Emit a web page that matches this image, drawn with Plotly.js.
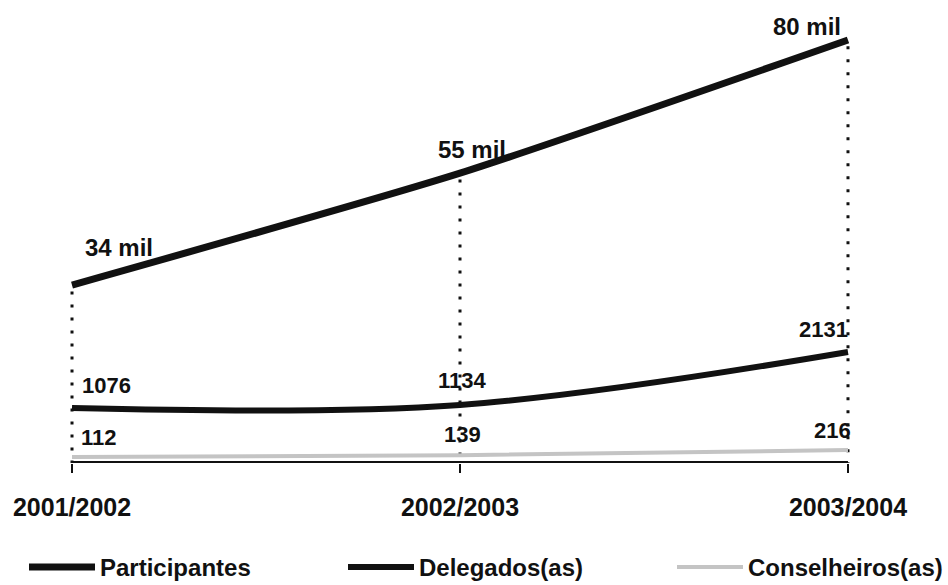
<!DOCTYPE html>
<html>
<head>
<meta charset="utf-8">
<script src="https://cdn.plot.ly/plotly-3.0.1.min.js"></script>
<style>html,body{margin:0;padding:0;background:#fff;}#chart{width:948px;height:585px;}</style>
</head>
<body>
<div id="chart"></div>
<script>
var categories = ["2001/2002", "2002/2003", "2003/2004"];
var participantes = [34, 55, 80];          // mil
var participantesLabels = ["34 mil", "55 mil", "80 mil"];
var delegados = [1076, 1134, 2131];
var conselheiros = [112, 139, 216];
var seriesNames = ["Participantes", "Delegados(as)", "Conselheiros(as)"];

var FONT = "Liberation Sans, Arial, sans-serif";
var yr1 = [0.6, 83.75], yr2 = [40, 8384], yr3 = [23, 6605];

var traces = [
  {x: categories, y: participantes, yaxis: "y", name: seriesNames[0], mode: "lines", legend: "legend",
   line: {color: "#111", width: 7, shape: "spline", smoothing: 0.6}},
  {x: categories, y: delegados, yaxis: "y2", name: seriesNames[1], mode: "lines", legend: "legend2",
   line: {color: "#111", width: 6, shape: "spline", smoothing: 1}},
  {x: categories, y: conselheiros, yaxis: "y3", name: seriesNames[2], mode: "lines", legend: "legend3",
   line: {color: "#c4c4c4", width: 4, shape: "spline", smoothing: 0.6}}
];
// dotted drop lines from the top series to the axis
for (var i = 0; i < categories.length; i++) {
  traces.push({x: [categories[i], categories[i]], y: [participantes[i] - 1.2, yr1[0]], yaxis: "y",
    mode: "lines", showlegend: false, hoverinfo: "skip",
    line: {color: "#111", width: 3, dash: "3px,10px"}});
}
// baseline spanning the categories
traces.push({x: categories, y: categories.map(function () { return yr1[0]; }), yaxis: "y",
  mode: "lines", showlegend: false, hoverinfo: "skip", line: {color: "#111", width: 4}});

var anns = [];
var anchors = ["left", "center", "right"];
for (var j = 0; j < categories.length; j++) {
  anns.push({x: categories[j], y: participantes[j], yref: "y", text: participantesLabels[j],
    showarrow: false, xanchor: anchors[j], yanchor: "bottom", xshift: [11, 12, -5][j], yshift: [22, 8, -2][j],
    font: {family: FONT, size: 24, color: "#111", weight: "bold"}});
  anns.push({x: categories[j], y: delegados[j], yref: "y2", text: String(delegados[j]),
    showarrow: false, xanchor: anchors[j], yanchor: "bottom", xshift: [8, 2, 2][j], yshift: [8, 10, 8][j],
    font: {family: FONT, size: 22, color: "#111", weight: "bold"}});
  anns.push({x: categories[j], y: conselheiros[j], yref: "y3", text: String(conselheiros[j]),
    showarrow: false, xanchor: anchors[j], yanchor: "bottom", xshift: [7, 2, 5][j], yshift: [5, 6, 5][j],
    font: {family: FONT, size: 22, color: "#111", weight: "bold"}});
}

function legendAt(xpx, iw) {
  return {orientation: "h", xref: "container", yref: "container", x: xpx / 948, y: 0.03,
    xanchor: "left", yanchor: "middle", itemwidth: iw, bgcolor: "rgba(0,0,0,0)",
    font: {family: FONT, size: 24, color: "#111", weight: "bold"}};
}

var layout = {
  width: 948, height: 585,
  margin: {l: 40, r: 68, t: 20, b: 122},
  paper_bgcolor: "#fff", plot_bgcolor: "#fff",
  showlegend: true,
  legend: legendAt(24, 66),
  legend2: legendAt(343, 66),
  legend3: legendAt(672, 66),
  xaxis: {type: "category", range: [-0.0825, 2.0825], showgrid: false, zeroline: false,
    showline: false, ticks: "outside", ticklen: 9, tickwidth: 2,
    tickcolor: "#111", ticklabelstandoff: 13,
    tickfont: {family: FONT, size: 25, color: "#111", weight: "bold"}},
  yaxis: {range: yr1, visible: false, showgrid: false, zeroline: false},
  yaxis2: {range: yr2, overlaying: "y", visible: false, showgrid: false, zeroline: false},
  yaxis3: {range: yr3, overlaying: "y", visible: false, showgrid: false, zeroline: false},
  annotations: anns
};
Plotly.newPlot("chart", traces, layout, {displayModeBar: false, staticPlot: true});
</script>
</body>
</html>
